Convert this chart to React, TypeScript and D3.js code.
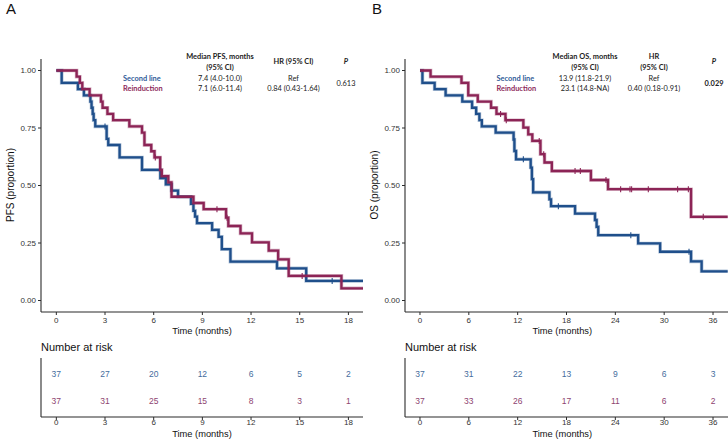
import React from "react";
import * as d3 from "d3";

// ---------- DATA ----------
// Panel A (PFS) step points [time, survival]
const pfsSecondLine: [number, number][] = [
  [0, 1], [0.33, 0.946], [1.33, 0.919], [1.7, 0.892], [2.1, 0.865], [2.17, 0.838], [2.24, 0.811],
  [2.3, 0.784], [2.4, 0.757], [3.1, 0.703], [3.2, 0.676], [3.9, 0.622], [5.28, 0.568], [6.41, 0.532],
  [6.75, 0.505], [7.1, 0.478], [7.5, 0.451], [8.3, 0.42], [8.45, 0.39], [8.55, 0.365], [8.67, 0.336],
  [9.6, 0.307], [10.0, 0.277], [10.2, 0.223], [10.73, 0.169], [13.6, 0.14], [15.4, 0.085],
];
const pfsSecondCensor: [number, number][] = [[3.0, 0.757], [17.0, 0.085]];
const pfsReinduction: [number, number][] = [
  [0, 1], [1.25, 0.973], [1.45, 0.946], [1.6, 0.919], [2.05, 0.892], [2.75, 0.865], [2.85, 0.838],
  [3.15, 0.811], [3.5, 0.784], [4.5, 0.757], [5.28, 0.73], [5.43, 0.676], [5.85, 0.649], [6.05, 0.622],
  [6.4, 0.568], [6.5, 0.541], [6.9, 0.514], [7.1, 0.451], [8.45, 0.424], [9.08, 0.397], [10.46, 0.36],
  [10.6, 0.324], [11.35, 0.292], [12.06, 0.253], [13.09, 0.217], [13.67, 0.179], [14.32, 0.107], [17.57, 0.053],
];
const pfsReinductionCensor: [number, number][] = [[6.1, 0.622], [9.9, 0.397], [10.52, 0.36], [15.15, 0.107]];
const pfsEnd = 18.9;

// Panel B (OS)
const osSecondLine: [number, number][] = [
  [0, 1], [0.3, 0.946], [1.8, 0.919], [3.15, 0.892], [5.2, 0.865], [6.4, 0.838], [6.9, 0.811],
  [7.3, 0.784], [7.6, 0.757], [9.3, 0.73], [11.5, 0.7], [11.6, 0.65], [11.8, 0.614], [13.6, 0.578],
  [13.75, 0.528], [13.9, 0.47], [15.9, 0.44], [16.1, 0.41], [19.05, 0.378], [21.5, 0.35], [21.7, 0.32],
  [21.9, 0.284], [26.8, 0.248], [29.5, 0.212], [33.3, 0.17], [34.6, 0.127],
];
const osSecondCensor: [number, number][] = [[12.7, 0.614], [17.0, 0.41], [25.9, 0.284], [33.05, 0.212]];
const osReinduction: [number, number][] = [
  [0, 1], [1.3, 0.973], [5.1, 0.946], [5.93, 0.892], [7.1, 0.865], [8.73, 0.838], [9.4, 0.811],
  [10.5, 0.784], [12.7, 0.752], [13.3, 0.722], [13.8, 0.694], [14.8, 0.636], [15.3, 0.6], [16.2, 0.563],
  [21.0, 0.524], [23.1, 0.484], [33.3, 0.364],
];
const osReinductionCensor: [number, number][] = [
  [9.9, 0.811], [10.6, 0.784], [14.65, 0.694], [15.2, 0.636], [19.05, 0.563], [19.7, 0.563], [22.85, 0.524],
  [24.65, 0.484], [25.8, 0.484], [26.0, 0.484], [28.05, 0.484], [31.65, 0.484], [32.97, 0.484], [34.8, 0.364],
];
const osEnd = 37.8;

const yTicks = [0, 0.25, 0.5, 0.75, 1.0];
const pfsXTicks = [0, 3, 6, 9, 12, 15, 18];
const osXTicks = [0, 6, 12, 18, 24, 30, 36];
const pfsRiskSecond = [37, 27, 20, 12, 6, 5, 2];
const pfsRiskReinduction = [37, 31, 25, 15, 8, 3, 1];
const osRiskSecond = [37, 31, 22, 13, 9, 6, 3];
const osRiskReinduction = [37, 33, 26, 17, 11, 6, 2];

const groupLabels = ["Second line", "Reinduction"];
const pfsMedians = ["7.4 (4.0-10.0)", "7.1 (6.0-11.4)"];
const pfsHR = ["Ref", "0.84 (0.43-1.64)"];
const osMedians = ["13.9 (11.8-21.9)", "23.1 (14.8-NA)"];
const osHR = ["Ref", "0.40 (0.18-0.91)"];

// ---------- STYLE ----------
const BLUE = "#1f4f8b";
const RED = "#8c2456";
const BLUE_TXT = "#2f5b98";
const RED_TXT = "#8d2a5b";
const BLUE_RISK = "#456d9d";
const RED_RISK = "#8e4470";
const AX = "#2b2b2b";
const SANS = "'Liberation Sans', Arial, sans-serif";
const ANN = "Lato, 'Open Sans', sans-serif";

type PanelProps = {
  letter: string;
  ylab: string;
  x0: number;
  x1: number;
  domain: [number, number];
  ylabX: number;
  xTicks: number[];
  series: { data: [number, number][]; censor: [number, number][]; color: string }[];
  end: number;
  riskRows: { values: number[]; color: string }[];
};

function Panel(p: PanelProps) {
  const x = d3.scaleLinear().domain(p.domain).range([p.x0, p.x1]);
  const y = d3.scaleLinear().domain([-0.05, 1.05]).range([312, 59]);
  const line = d3
    .line<[number, number]>()
    .x((d) => x(d[0]))
    .y((d) => y(d[1]))
    .curve(d3.curveStepAfter);
  const plotBottom = 312;
  const tableTop = 358;
  const tableBottom = 417;
  const midX = (p.x0 + x(p.domain[1] > 30 ? 36.8 : 18.9)) / 2;
  return (
    <g>
      <text x={p.letter === "A" ? 6 : 372} y={14} fontSize={15} fontFamily={SANS} fill="#111">
        {p.letter}
      </text>
      <defs>
        <clipPath id={"clip" + p.letter}>
          <rect x={p.x0} y={50} width={p.x1 - p.x0 + 2} height={270} />
        </clipPath>
      </defs>
      {/* y axis */}
      <line x1={p.x0} x2={p.x0} y1={59} y2={plotBottom} stroke={AX} strokeWidth={1.1} />
      {yTicks.map((t) => (
        <g key={t}>
          <line x1={p.x0 - 3} x2={p.x0} y1={y(t)} y2={y(t)} stroke={AX} strokeWidth={1} />
          <text x={p.x0 - 5} y={y(t)} dy="0.35em" textAnchor="end" fontSize={8} fontFamily={SANS} fill="#333">
            {d3.format(".2f")(t)}
          </text>
        </g>
      ))}
      <text
        transform={`translate(${p.ylabX},${185}) rotate(-90)`}
        textAnchor="middle"
        fontSize={10}
        fontFamily={SANS}
        fill="#111"
        dy="0.35em"
      >
        {p.ylab}
      </text>
      {/* x axis */}
      <line x1={p.x0} x2={p.x1} y1={plotBottom} y2={plotBottom} stroke={AX} strokeWidth={1.1} />
      {p.xTicks.map((t) => (
        <g key={t}>
          <line x1={x(t)} x2={x(t)} y1={plotBottom} y2={plotBottom + 3} stroke={AX} strokeWidth={1} />
          <text x={x(t)} y={320.3} dy="0.35em" textAnchor="middle" fontSize={8} fontFamily={SANS} fill="#333">
            {t}
          </text>
        </g>
      ))}
      <text x={midX} y={331} dy="0.35em" textAnchor="middle" fontSize={9.3} fontFamily={SANS} fill="#111">
        Time (months)
      </text>
      {/* curves */}
      <g clipPath={`url(#clip${p.letter})`}>
        {p.series.map((s, i) => {
          const pts: [number, number][] = [...s.data, [p.end, s.data[s.data.length - 1][1]]];
          return (
            <g key={i}>
              <path d={line(pts) || ""} fill="none" stroke={s.color} strokeOpacity={0.35} strokeWidth={3.6} />
              <path d={line(pts) || ""} fill="none" stroke={s.color} strokeWidth={2.3} />
              {s.censor.map((c, j) => (
                <line
                  key={j}
                  x1={x(c[0])}
                  x2={x(c[0])}
                  y1={y(c[1]) - 3}
                  y2={y(c[1]) + 3}
                  stroke={s.color}
                  strokeWidth={1.1}
                />
              ))}
            </g>
          );
        })}
      </g>
      {/* risk table */}
      <text x={p.x0} y={347.5} dy="0.35em" fontSize={11} fontFamily={SANS} fill="#111">
        Number at risk
      </text>
      <line x1={p.x0} x2={p.x0} y1={tableTop} y2={tableBottom} stroke={AX} strokeWidth={1.1} />
      <line x1={p.x0} x2={p.x1} y1={tableBottom} y2={tableBottom} stroke={AX} strokeWidth={1.1} />
      {p.xTicks.map((t) => (
        <g key={"r" + t}>
          <line x1={x(t)} x2={x(t)} y1={tableBottom} y2={tableBottom + 3} stroke={AX} strokeWidth={1} />
          <text x={x(t)} y={422.5} dy="0.35em" textAnchor="middle" fontSize={8} fontFamily={SANS} fill="#333">
            {t}
          </text>
        </g>
      ))}
      {p.riskRows.map((r, ri) =>
        r.values.map((v, i) => (
          <text
            key={ri + "-" + i}
            x={x(p.xTicks[i])}
            y={ri === 0 ? 373.8 : 400.8}
            dy="0.35em"
            textAnchor="middle"
            fontSize={8.5}
            fontFamily={SANS}
            fill={r.color}
          >
            {v}
          </text>
        ))
      )}
      <text x={midX} y={433.3} dy="0.35em" textAnchor="middle" fontSize={9.3} fontFamily={SANS} fill="#111">
        Time (months)
      </text>
    </g>
  );
}

function Annotation(props: {
  labelX: number;
  medX: number;
  hrX: number;
  pX: number;
  medTitle: string;
  hrLines: string[];
  medians: string[];
  hrs: string[];
  pval: string;
  pBold: boolean;
}) {
  const fs = 7.4;
  const t = (x: number, y: number, s: string, opts: any = {}) => (
    <text x={x} y={y} dy="0.35em" fontSize={fs} fontFamily={ANN} fill="#222" {...opts}>
      {s}
    </text>
  );
  return (
    <g>
      {t(props.medX, 56.7, props.medTitle, { textAnchor: "middle", fontWeight: 700 })}
      {t(props.medX, 67.7, "(95% CI)", { textAnchor: "middle", fontWeight: 700 })}
      {props.hrLines.length === 1
        ? t(props.hrX, 61.7, props.hrLines[0], { textAnchor: "middle", fontWeight: 700 })
        : [
            t(props.hrX, 56.7, props.hrLines[0], { textAnchor: "middle", fontWeight: 700, key: "h1" }),
            t(props.hrX, 67.7, props.hrLines[1], { textAnchor: "middle", fontWeight: 700, key: "h2" }),
          ]}
      {t(props.pX, 61.7, "P", { textAnchor: "middle", fontWeight: 700, fontStyle: "italic" })}
      {t(props.labelX, 78.3, groupLabels[0], { fontWeight: 700, fill: BLUE_TXT })}
      {t(props.labelX, 88.7, groupLabels[1], { fontWeight: 700, fill: RED_TXT })}
      {t(props.medX, 78.3, props.medians[0], { textAnchor: "middle" })}
      {t(props.medX, 88.7, props.medians[1], { textAnchor: "middle" })}
      {t(props.hrX, 78.3, props.hrs[0], { textAnchor: "middle" })}
      {t(props.hrX, 88.7, props.hrs[1], { textAnchor: "middle" })}
      {t(props.pX, 83.5, props.pval, { textAnchor: "middle", fontWeight: props.pBold ? 700 : 400 })}
    </g>
  );
}

export default function App() {
  return (
    <svg
      width={728}
      height={439}
      viewBox="0 0 728 439"
      style={{ position: "absolute", left: 0, top: 0, background: "#fff" }}
    >
      <rect width={728} height={439} fill="#fff" />
      <Panel
        letter="A"
        ylab="PFS (proportion)"
        x0={41}
        x1={363}
        domain={[-0.945, 18.9]}
        ylabX={10}
        xTicks={pfsXTicks}
        end={pfsEnd}
        series={[
          { data: pfsSecondLine, censor: pfsSecondCensor, color: BLUE },
          { data: pfsReinduction, censor: pfsReinductionCensor, color: RED },
        ]}
        riskRows={[
          { values: pfsRiskSecond, color: BLUE_RISK },
          { values: pfsRiskReinduction, color: RED_RISK },
        ]}
      />
      <Panel
        letter="B"
        ylab="OS (proportion)"
        x0={405}
        x1={728}
        domain={[-1.84, 37.84]}
        ylabX={374}
        xTicks={osXTicks}
        end={osEnd}
        series={[
          { data: osSecondLine, censor: osSecondCensor, color: BLUE },
          { data: osReinduction, censor: osReinductionCensor, color: RED },
        ]}
        riskRows={[
          { values: osRiskSecond, color: BLUE_RISK },
          { values: osRiskReinduction, color: RED_RISK },
        ]}
      />
      <Annotation
        labelX={123}
        medX={220}
        hrX={293.5}
        pX={346}
        medTitle="Median PFS, months"
        hrLines={["HR (95% CI)"]}
        medians={pfsMedians}
        hrs={pfsHR}
        pval="0.613"
        pBold={false}
      />
      <Annotation
        labelX={496.5}
        medX={585}
        hrX={654}
        pX={714}
        medTitle="Median OS, months"
        hrLines={["HR", "(95% CI)"]}
        medians={osMedians}
        hrs={osHR}
        pval="0.029"
        pBold={true}
      />
    </svg>
  );
}
